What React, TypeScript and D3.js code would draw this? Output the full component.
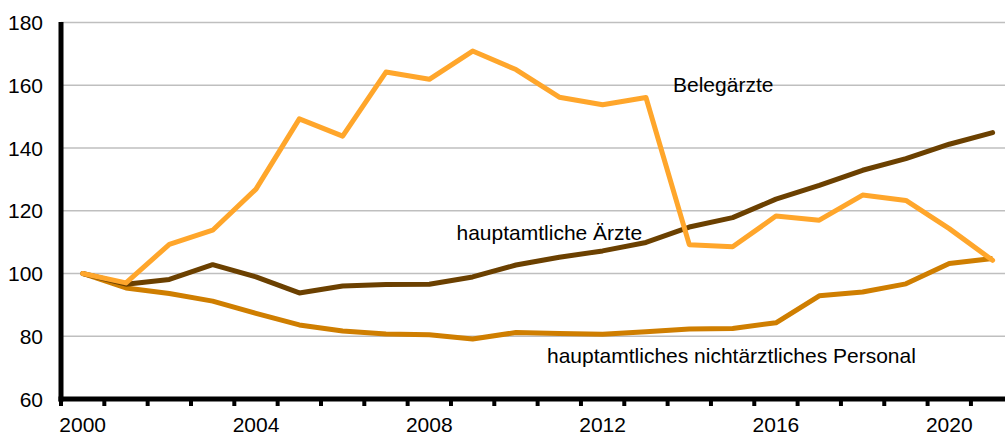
import React from 'react';
import * as d3 from 'd3';

// years shown on the x axis (one band per year)
const years = [2000, 2001, 2002, 2003, 2004, 2005, 2006, 2007, 2008, 2009, 2010,
  2011, 2012, 2013, 2014, 2015, 2016, 2017, 2018, 2019, 2020, 2021];

const belegaerzte = [100, 97, 109.3, 113.8, 126.9, 149.3, 143.8, 164.2, 161.9, 170.9, 165,
  156.2, 153.8, 156.1, 109.2, 108.5, 118.3, 117, 125, 123.3, 114.3, 104.2];

const hauptAerzte = [100, 96.6, 98.1, 102.8, 98.9, 93.8, 96, 96.5, 96.6, 98.9, 102.7,
  105.2, 107.2, 109.9, 114.8, 117.8, 123.7, 128.1, 132.9, 136.6, 141.2, 144.9];

const nichtAerztlich = [100, 95.4, 93.6, 91.2, 87.3, 83.6, 81.7, 80.7, 80.5, 79.1, 81.2,
  80.9, 80.6, 81.4, 82.3, 82.5, 84.3, 92.9, 94.1, 96.7, 103.2, 104.8];

const yTicks = [60, 80, 100, 120, 140, 160, 180];
const xLabels = [2000, 2004, 2008, 2012, 2016, 2020];

const W = 1005;
const H = 434;
const left = 61;
const top = 22.5;
const bottom = 399;

const App = () => {
  const x = d3.scaleBand<number>().domain(years).range([left, left + 22 * 43.33]);
  const y = d3.scaleLinear().domain([60, 180]).range([bottom, top]);
  const cx = (yr: number) => (x(yr) as number) + x.bandwidth() / 2;

  const line = (vals: number[]) =>
    d3.line<number>()
      .x((_, i) => cx(years[i]))
      .y((d) => y(d))(vals) as string;

  const font = 'Liberation Sans, Arial, sans-serif';

  return (
    <svg width={W} height={H} style={{ position: 'absolute', left: 0, top: 0, background: '#fff' }}
      fontFamily={font}>
      {/* gridlines */}
      {yTicks.filter((t) => t > 60).map((t) => (
        <line key={t} x1={left} x2={W} y1={y(t)} y2={y(t)} stroke="#bfbfbf" strokeWidth={1.5} />
      ))}

      {/* series */}
      <path d={line(nichtAerztlich)} fill="none" stroke="#cf7e00" strokeWidth={5} strokeLinejoin="round" />
      <path d={line(hauptAerzte)} fill="none" stroke="#6b4000" strokeWidth={5} strokeLinejoin="round" strokeLinecap="round" />
      <path d={line(belegaerzte)} fill="none" stroke="#ffa62b" strokeWidth={5} strokeLinejoin="round" strokeLinecap="round" />

      {/* axes */}
      <line x1={left} x2={left} y1={top - 0.5} y2={bottom + 2.5} stroke="#000" strokeWidth={5} />
      <line x1={left - 2.5} x2={W} y1={bottom} y2={bottom} stroke="#000" strokeWidth={5} />
      {years.map((yr) => (
        <line key={yr} x1={x(yr) as number} x2={x(yr) as number} y1={bottom} y2={bottom + 7}
          stroke="#000" strokeWidth={4} />
      ))}

      {yTicks.map((t) => (
        <text key={t} x={43} y={y(t) + 7.5} textAnchor="end" fontSize={21} fill="#000">{t}</text>
      ))}
      {xLabels.map((yr) => (
        <text key={yr} x={cx(yr)} y={432} textAnchor="middle" fontSize={21} fill="#000">{yr}</text>
      ))}

      {/* series labels */}
      <text x={673} y={91.5} fontSize={21} fill="#000">Belegärzte</text>
      <text x={456.5} y={240} fontSize={21} fill="#000">hauptamtliche Ärzte</text>
      <text x={547} y={362.5} fontSize={21} fill="#000">hauptamtliches nichtärztliches Personal</text>
    </svg>
  );
};

export default App;
